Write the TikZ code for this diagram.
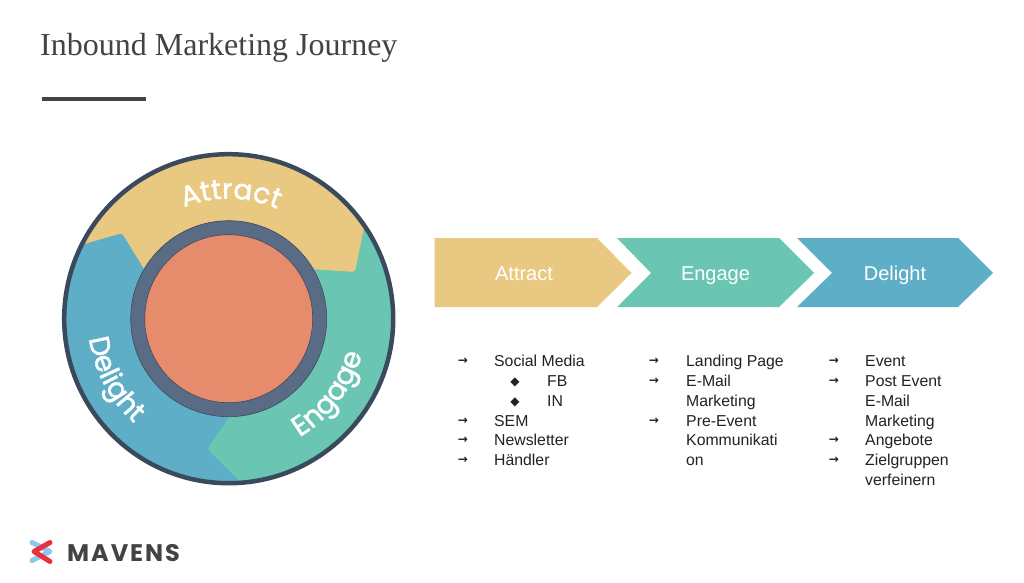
\documentclass[tikz,border=0pt]{standalone}
\usepackage{fontspec}
\setmainfont{Liberation Sans}
\newfontfamily\titlefont{Liberation Serif}
\newfontfamily\ringfont[FakeBold=1.6]{Poppins}
\newfontfamily\logofont[LetterSpace=8]{Poppins}
\newfontfamily\symfont{DejaVu Sans}
\usetikzlibrary{decorations.text}
\definecolor{cyellow}{HTML}{E9C981}
\definecolor{cteal}{HTML}{6AC5B3}
\definecolor{cblue}{HTML}{5FAEC7}
\definecolor{corange}{HTML}{E68B6B}
\definecolor{cring}{HTML}{5A6C85}
\definecolor{cedge}{HTML}{3A4A5C}
\definecolor{ctext}{HTML}{434343}
\definecolor{clist}{HTML}{222222}
\definecolor{lblue}{HTML}{8CC8EE}
\definecolor{lred}{HTML}{E8303F}
\tikzset{
  x=1pt,y=1pt,
  chevlabel/.style={text=white,font=\fontsize{20}{20}\selectfont,anchor=base,inner sep=0pt},
  listtext/.style={text=clist,font=\fontsize{15.8}{15.8}\selectfont,anchor=base west,inner sep=0pt},
  arrowmark/.style={text=clist,font=\symfont\bfseries\fontsize{12}{12}\selectfont,anchor=center,inner sep=0pt},
  diamondmark/.style={text=clist,font=\symfont\fontsize{12}{12}\selectfont,anchor=center,inner sep=0pt},
  logostroke/.style={line width=5pt,line cap=round,line join=round},
}
\newcommand{\ringlabel}[2]{%
  \path[decorate,decoration={text along path,text align=center,
    text color=white,
    text={|\ringfont\fontsize{28}{28}\selectfont\color{white}|#1}}] #2;}
\begin{document}
\begin{tikzpicture}
\useasboundingbox (0,0) rectangle (1024,582);
\fill[white] (0,0) rectangle (1024,582);
% title
\node[anchor=base west,inner sep=0pt,text=ctext,font=\titlefont\fontsize{32}{32}\selectfont] (title) at (40,526) {Inbound Marketing Journey};
\fill[ctext] (42,481) rectangle (146,485);
% flywheel
\coordinate (c) at (228.7,263.3);
\begin{scope}
\clip (c) circle[radius=166];
\fill[cteal] (c) circle[radius=170];
\fill[cblue] (c) -- (228.3,163.7) [rounded corners=3pt] -- (207.2,133) [sharp corners] -- (239.3,100.7) -- (260,80) -- (40,80) -- (40,400) -- (228,400) -- cycle;
\fill[cyellow] (228,263) -- (170,263) -- (143.3,314.3) [rounded corners=3pt] -- (122,349) [sharp corners] -- (83.3,337.7) -- (50,329) -- (50,450) -- (372,450) -- (372,394) -- (364,354.7) [rounded corners=3pt] -- (355,310) [sharp corners] -- (315,312.7) -- (228,318) -- cycle;
\end{scope}
\draw[cedge,line width=4.5pt] (c) circle[radius=164.5];
\fill[cring] (c) circle[radius=98];
\draw[cedge,line width=0.6pt] (c) circle[radius=98];
\fill[corange] (c) circle[radius=84];
\draw[cedge,line width=0.6pt] (c) circle[radius=84];
% curved labels
\ringlabel{Attract}{(c) ++(112:120) arc[start angle=112,end angle=66,radius=120]}
\ringlabel{Engage}{(c) ++(-62:138) arc[start angle=-62,end angle=-12,radius=138]}
\ringlabel{Delight}{(c) ++(184:141) arc[start angle=184,end angle=232,radius=141]}
% chevrons
\fill[cyellow] (434.5,344) -- (597,344) -- (631.5,309) -- (597,275) -- (434.5,275) -- cycle;
\fill[cteal] (617,344) -- (779,344) -- (814,309) -- (779,275) -- (617,275) -- (651,309) -- cycle;
\fill[cblue] (797,344) -- (958,344) -- (993,309) -- (958,275) -- (797,275) -- (832,309) -- cycle;
\node[chevlabel] (a) at (524,302) {Attract};
\node[chevlabel] (e) at (715.5,302) {Engage};
\node[chevlabel] (d) at (895,302) {Delight};
% lists
\foreach \nm/\x/\y/\t in {
  a1/494/215.5/Social Media, a2/547/196/FB, a3/547/176/IN, a4/494/156/SEM, a5/494/137/Newsletter, a6/494/117/Händler,
  b1/686/215.5/Landing Page, b2/686/196/E-Mail, b3/686/176/Marketing, b4/686/156/Pre-Event, b5/686/137/Kommunikati, b6/686/117/on,
  c1/865/215.5/Event, c2/865/196/Post Event, c3/865/176/E-Mail, c4/865/156/Marketing, c5/865/137/Angebote, c6/865/117/Zielgruppen, c7/865/97/verfeinern}
  {\node[listtext] (\nm) at (\x,\y) {\t};}
\foreach \nm/\x/\y in {m1/463/221,m2/463/161,m3/463/142,m4/463/122,
  m5/654/221,m6/654/201,m7/654/161,
  m8/834/221,m9/834/201,m10/834/142,m11/834/122}
  {\node[arrowmark] (\nm) at (\x,\y) {→};}
\node[diamondmark] (s1) at (515,200) {◆};
\node[diamondmark] (s2) at (515,180) {◆};
% logo
\draw[lblue,logostroke] (32,39.5) -- (50,30.5) -- (32,21.5);
\draw[lred,logostroke] (50,39.5) -- (34,30.5) -- (50,20.5);
\node[anchor=base west,inner sep=0pt,text=ctext,font=\logofont\bfseries\fontsize{24}{24}\selectfont] (logo) at (67,21) {MAVENS};
\end{tikzpicture}
\end{document}
